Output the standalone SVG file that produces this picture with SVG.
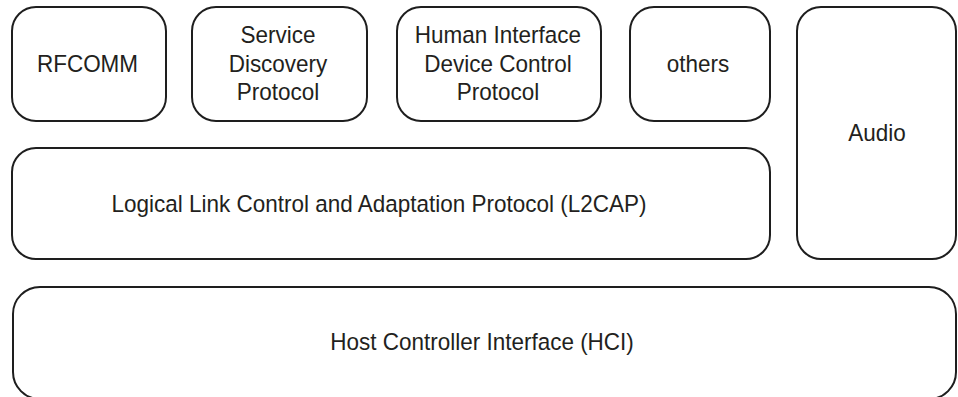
<svg xmlns="http://www.w3.org/2000/svg" width="958" height="397" viewBox="0 0 958 397">
<style>
.box{fill:#fff;stroke:#1e1e1e;stroke-width:2}
.t{font-family:"Liberation Sans",Arial,sans-serif;font-size:22.5px;fill:#231f20;text-anchor:middle}
</style>
<rect width="958" height="397" fill="#fff"/>
<g id="rfcomm">
<rect class="box" x="12" y="7" width="154" height="114" rx="24" ry="24"/>
<text class="t" transform="translate(87.5,72) scale(1,1.06)">RFCOMM</text>
</g>
<g id="sdp">
<rect class="box" x="192" y="7" width="175" height="114" rx="24" ry="24"/>
<text class="t" transform="translate(278,43) scale(1,1.06)">Service</text>
<text class="t" transform="translate(278,72) scale(1,1.06)">Discovery</text>
<text class="t" transform="translate(278,100) scale(1,1.06)">Protocol</text>
</g>
<g id="hid">
<rect class="box" x="397" y="7" width="204" height="114" rx="24" ry="24"/>
<text class="t" transform="translate(498,43) scale(1,1.06)">Human Interface</text>
<text class="t" transform="translate(498,72) scale(1,1.06)">Device Control</text>
<text class="t" transform="translate(498,100) scale(1,1.06)">Protocol</text>
</g>
<g id="others">
<rect class="box" x="630" y="7" width="140" height="114" rx="24" ry="24"/>
<text class="t" transform="translate(698,72) scale(1,1.06)">others</text>
</g>
<g id="audio">
<rect class="box" x="797" y="7" width="159" height="252" rx="24" ry="24"/>
<text class="t" transform="translate(877,141) scale(1,1.06)">Audio</text>
</g>
<g id="l2cap">
<rect class="box" x="12" y="148" width="758" height="111" rx="24" ry="24"/>
<text class="t" transform="translate(379,211.5) scale(1,1.06)">Logical Link Control and Adaptation Protocol (L2CAP)</text>
</g>
<g id="hci">
<rect class="box" x="13" y="287" width="943" height="112" rx="27" ry="27"/>
<text class="t" transform="translate(482,350) scale(1,1.06)">Host Controller Interface (HCI)</text>
</g>
<g id="connectors"/>
</svg>
